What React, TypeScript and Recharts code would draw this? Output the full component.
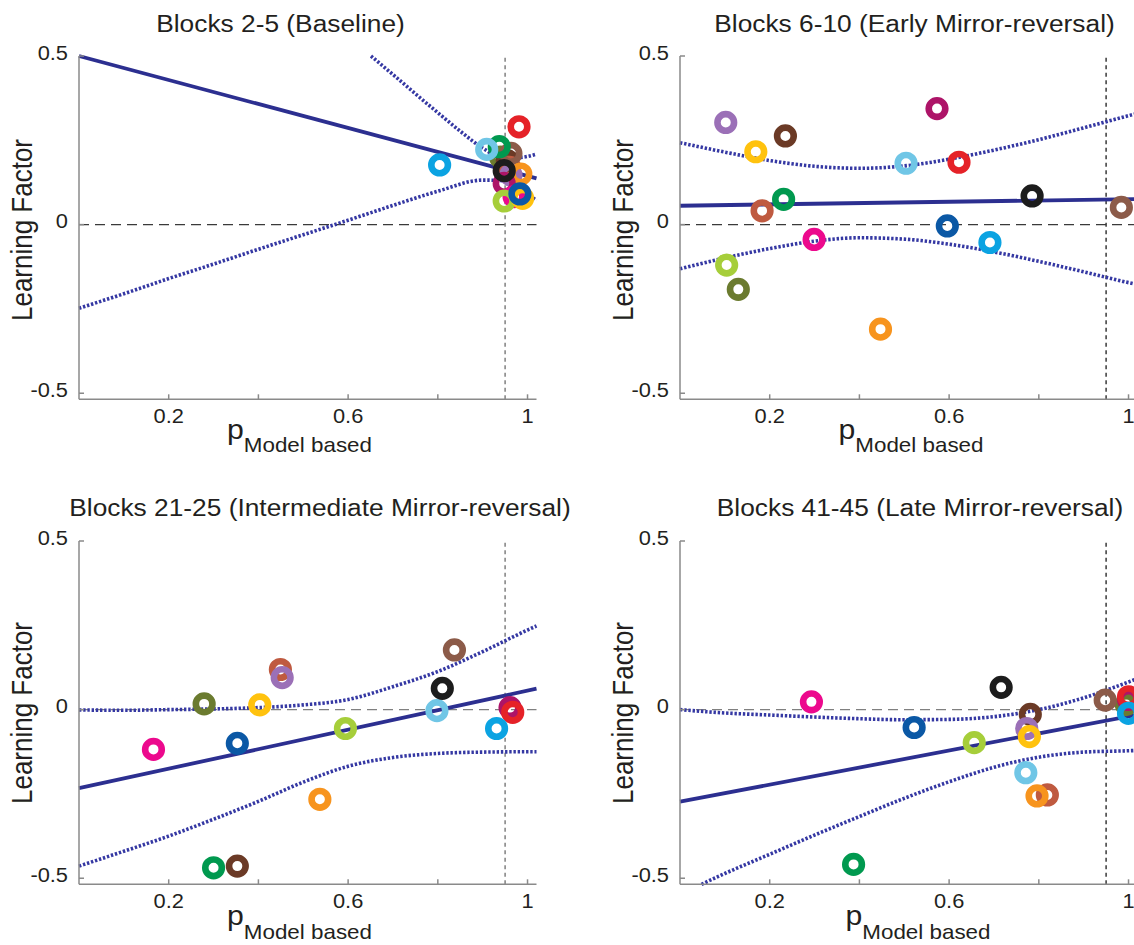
import React from 'react';
import { ComposedChart, XAxis, YAxis, Scatter, Line, ReferenceLine } from 'recharts';

// ---- shared axes ----
const X_DOMAIN: [number, number] = [0, 1.02];
const Y_DOMAIN: [number, number] = [-0.518, 0.5];
const X_TICKS = [0.2, 0.4, 0.6, 0.8, 1];
const X_TICK_LABELS = ['0.2', '', '0.6', '', '1'];
const Y_TICKS = [-0.5, 0, 0.5];
const CRITERION_P = 0.95;

// one colour per participant (index = participant id, also draw order)
const SUBJECT_COLORS = [
  '#6b7b2f', // olive
  '#6b3a26', // dark brown
  '#bf5a40', // sienna
  '#8c5b49', // taupe
  '#00994f', // green
  '#70c6e6', // sky blue
  '#9b70b7', // lavender
  '#f7941e', // orange
  '#ad1468', // crimson
  '#1c1c1c', // black
  '#e52228', // red
  '#ec098d', // pink
  '#a6ce3a', // lime
  '#ffc20e', // yellow
  '#0b58a5', // dark blue
  '#0ba3e2', // cyan
];

// ---- Blocks 2-5 (Baseline) ----
const BASE_P = [0.94, 0.955, 0.96, 0.963, 0.937, 0.909, 0.963, 0.985, 0.948, 0.948, 0.981, 0.97, 0.948, 0.989, 0.983, 0.804];
const BASE_LF = [0.2, 0.19, 0.17, 0.211, 0.231, 0.223, 0.147, 0.15, 0.122, 0.16, 0.29, 0.083, 0.07, 0.078, 0.091, 0.177];
const BASE_FIT_X = [0, 1.02];
const BASE_FIT_Y = [0.5, 0.137];
const BASE_UP_X = [0.651, 0.7, 0.75, 0.8, 0.85, 0.9, 0.94, 0.98, 1.02];
const BASE_UP_Y = [0.5, 0.445, 0.388, 0.332, 0.277, 0.227, 0.2, 0.199, 0.209];
const BASE_LO_X = [0, 0.1, 0.2, 0.3, 0.4, 0.5, 0.6, 0.7, 0.8, 0.9, 0.94, 0.98, 1.02];
const BASE_LO_Y = [-0.248, -0.205, -0.16, -0.117, -0.073, -0.03, 0.013, 0.057, 0.099, 0.132, 0.131, 0.106, 0.072];

// ---- Blocks 6-10 (Early Mirror-reversal) ----
const EARLY_P = [0.13, 0.235, 0.183, 0.984, 0.231, 0.504, 0.102, 0.447, 0.573, 0.785, 0.622, 0.299, 0.104, 0.169, 0.596, 0.691];
const EARLY_LF = [-0.192, 0.263, 0.041, 0.051, 0.075, 0.182, 0.303, -0.31, 0.344, 0.085, 0.185, -0.044, -0.12, 0.216, -0.004, -0.053];
const EARLY_FIT_X = [0, 1.02];
const EARLY_FIT_Y = [0.056, 0.076];
const EARLY_BAND_X = [0, 0.1, 0.2, 0.3, 0.4, 0.5, 0.6, 0.7, 0.8, 0.9, 1, 1.02];
const EARLY_UP_Y = [0.243, 0.215, 0.19, 0.173, 0.167, 0.174, 0.194, 0.221, 0.252, 0.287, 0.323, 0.33];
const EARLY_LO_Y = [-0.131, -0.099, -0.071, -0.049, -0.039, -0.043, -0.058, -0.081, -0.109, -0.14, -0.172, -0.178];

// ---- Blocks 21-25 (Intermediate Mirror-reversal) ----
const MID_P = [0.279, 0.353, 0.449, 0.837, 0.3, 0.798, 0.453, 0.537, 0.961, 0.81, 0.967, 0.166, 0.594, 0.403, 0.353, 0.931];
const MID_LF = [0.017, -0.464, 0.119, 0.177, -0.469, -0.003, 0.095, -0.266, 0.006, 0.063, -0.008, -0.118, -0.056, 0.014, -0.1, -0.056];
const MID_FIT_X = [0, 1.02];
const MID_FIT_Y = [-0.233, 0.062];
const MID_BAND_X = [0, 0.1, 0.2, 0.3, 0.4, 0.5, 0.6, 0.7, 0.8, 0.9, 1, 1.02];
const MID_UP_Y = [-0.001, -0.002, 0, 0.002, 0.006, 0.014, 0.03, 0.068, 0.113, 0.172, 0.236, 0.248];
const MID_LO_Y = [-0.464, -0.42, -0.375, -0.325, -0.272, -0.215, -0.168, -0.142, -0.13, -0.126, -0.125, -0.125];

// ---- Blocks 41-45 (Late Mirror-reversal) ----
const LATE_P = [0.995, 0.781, 0.819, 0.948, 0.387, 0.771, 0.773, 0.796, 1.0, 0.716, 1.0, 0.293, 0.656, 0.779, 0.522, 1.0];
const LATE_LF = [0.015, -0.014, -0.253, 0.028, -0.459, -0.187, -0.056, -0.256, 0.03, 0.066, 0.038, 0.023, -0.098, -0.08, -0.053, -0.011];
const LATE_FIT_X = [0, 1.02];
const LATE_FIT_Y = [-0.273, -0.015];
const LATE_UP_X = [0, 0.1, 0.2, 0.3, 0.4, 0.5, 0.6, 0.7, 0.8, 0.9, 1, 1.02];
const LATE_UP_Y = [0.0, -0.01, -0.016, -0.022, -0.027, -0.03, -0.029, -0.021, 0.0, 0.035, 0.082, 0.092];
const LATE_LO_X = [0.048, 0.1, 0.2, 0.3, 0.4, 0.5, 0.6, 0.7, 0.8, 0.9, 1, 1.02];
const LATE_LO_Y = [-0.518, -0.486, -0.429, -0.372, -0.317, -0.263, -0.214, -0.171, -0.141, -0.126, -0.122, -0.121];

// ---- styling ----
const FONT = '"Liberation Sans", Arial, Helvetica, sans-serif';
const TEXT = '#231f20';
const AXIS = '#8a8a8a';
const NAVY = '#2c2f90';
const BAND = '#3538a3';
const STRETCH = 1.12;
const DARK_GUIDE = '#3a3a3a';
const GREY_GUIDE = '#808080';

type Pt = { x: number; y: number; s?: number };
const toPoints = (xs: number[], ys: number[]): Pt[] => xs.map((x, i) => ({ x, y: ys[i], s: i }));
const toSeries = (xs: number[], ys: number[]): Pt[] => xs.map((x, i) => ({ x, y: ys[i] }));

const Ring = (props: any) => {
  const { cx, cy, payload } = props;
  if (cx == null || cy == null) return null;
  return <circle cx={cx} cy={cy} r={8.3} fill="none" stroke={SUBJECT_COLORS[payload.s]} strokeWidth={6.6} />;
};

const XTick = (props: any) => {
  const { x, y, payload } = props;
  const label = X_TICK_LABELS[X_TICKS.indexOf(payload.value)] ?? '';
  if (!label) return null;
  return (
    <text transform={`translate(${x} ${y}) scale(${STRETCH} 1)`} textAnchor="middle" fontSize={19.5} fill={TEXT} fontFamily={FONT}>
      {label}
    </text>
  );
};

const YTick = (props: any) => {
  const { x, y, payload } = props;
  return (
    <text transform={`translate(${x} ${y + 3.5}) scale(${STRETCH} 1)`} textAnchor="end" fontSize={19.5} fill={TEXT} fontFamily={FONT}>
      {String(payload.value)}
    </text>
  );
};

type PanelProps = {
  left: number;
  top: number;
  width: number;
  height: number;
  margin: { top: number; right: number; bottom: number; left: number };
  points: Pt[];
  fit: Pt[];
  upper: Pt[];
  lower: Pt[];
  zeroColor: string;
  criterionColor: string;
};

const Panel = ({ left, top, width, height, margin, points, fit, upper, lower, zeroColor, criterionColor }: PanelProps) => (
  <div style={{ position: 'absolute', left, top, width, height }}>
    <ComposedChart width={width} height={height} margin={margin}>
      <XAxis
        type="number"
        dataKey="x"
        domain={X_DOMAIN}
        ticks={X_TICKS}
        interval={0}
        height={30}
        tickSize={-5}
        tickMargin={28.4}
        axisLine={{ stroke: AXIS, strokeWidth: 1.5 }}
        tickLine={{ stroke: AXIS, strokeWidth: 1.5 }}
        tick={<XTick />}
      />
      <YAxis
        type="number"
        dataKey="y"
        domain={Y_DOMAIN}
        ticks={Y_TICKS}
        interval={0}
        width={50}
        tickSize={-5}
        tickMargin={16}
        axisLine={{ stroke: AXIS, strokeWidth: 1.5 }}
        tickLine={{ stroke: AXIS, strokeWidth: 1.5 }}
        tick={<YTick />}
      />
      <ReferenceLine y={0} stroke={zeroColor} strokeWidth={1.3} strokeDasharray="10 6" />
      <ReferenceLine x={CRITERION_P} stroke={criterionColor} strokeWidth={1.5} strokeDasharray="4 3.5" />
      <Scatter data={points} dataKey="y" shape={<Ring />} isAnimationActive={false} />
      <Line data={fit} dataKey="y" type="linear" stroke={NAVY} strokeWidth={3.8} dot={false} activeDot={false} isAnimationActive={false} />
      <Line data={upper} dataKey="y" type="monotone" stroke={BAND} strokeWidth={3.6} strokeDasharray="2.4 1.8" dot={false} activeDot={false} isAnimationActive={false} />
      <Line data={lower} dataKey="y" type="monotone" stroke={BAND} strokeWidth={3.6} strokeDasharray="2.4 1.8" dot={false} activeDot={false} isAnimationActive={false} />
    </ComposedChart>
  </div>
);

const Title = ({ x, y, children }: { x: number; y: number; children: React.ReactNode }) => (
  <text transform={`translate(${x} ${y}) scale(${STRETCH} 1)`} textAnchor="middle" fontSize={23.5} fill={TEXT} fontFamily={FONT}>
    {children}
  </text>
);

const YLabel = ({ x, y }: { x: number; y: number }) => (
  <text transform={`translate(${x} ${y}) scale(${STRETCH} 1) rotate(-90)`} textAnchor="middle" fontSize={26} fill={TEXT} fontFamily={FONT}>
    Learning Factor
  </text>
);

const XLabel = ({ x, y }: { x: number; y: number }) => (
  <text transform={`translate(${x} ${y}) scale(${STRETCH} 1)`} textAnchor="start" fill={TEXT} fontFamily={FONT}>
    <tspan fontSize={27}>p</tspan>
    <tspan fontSize={20} dy={13.5}>Model based</tspan>
  </text>
);

const TOP_MARGIN = { top: 56, right: 33.5, bottom: 42.7, left: 29 };
const TOP_MARGIN_R = { top: 56, right: 2.5, bottom: 42.7, left: 60 };
const BOT_MARGIN = { top: 69, right: 33.5, bottom: 30.7, left: 29 };
const BOT_MARGIN_R = { top: 69, right: 2.5, bottom: 30.7, left: 60 };

export default function App() {
  return (
    <div style={{ position: 'absolute', left: 0, top: 0, width: 1134, height: 945, overflow: 'hidden', background: '#fff' }}>
      <Panel left={0} top={0} width={570} height={472} margin={TOP_MARGIN}
        points={toPoints(BASE_P, BASE_LF)} fit={toSeries(BASE_FIT_X, BASE_FIT_Y)}
        upper={toSeries(BASE_UP_X, BASE_UP_Y)} lower={toSeries(BASE_LO_X, BASE_LO_Y)}
        zeroColor={DARK_GUIDE} criterionColor={GREY_GUIDE} />
      <Panel left={570} top={0} width={570} height={472} margin={TOP_MARGIN_R}
        points={toPoints(EARLY_P, EARLY_LF)} fit={toSeries(EARLY_FIT_X, EARLY_FIT_Y)}
        upper={toSeries(EARLY_BAND_X, EARLY_UP_Y)} lower={toSeries(EARLY_BAND_X, EARLY_LO_Y)}
        zeroColor={DARK_GUIDE} criterionColor={DARK_GUIDE} />
      <Panel left={0} top={472} width={570} height={473} margin={BOT_MARGIN}
        points={toPoints(MID_P, MID_LF)} fit={toSeries(MID_FIT_X, MID_FIT_Y)}
        upper={toSeries(MID_BAND_X, MID_UP_Y)} lower={toSeries(MID_BAND_X, MID_LO_Y)}
        zeroColor={GREY_GUIDE} criterionColor={GREY_GUIDE} />
      <Panel left={570} top={472} width={570} height={473} margin={BOT_MARGIN_R}
        points={toPoints(LATE_P, LATE_LF)} fit={toSeries(LATE_FIT_X, LATE_FIT_Y)}
        upper={toSeries(LATE_UP_X, LATE_UP_Y)} lower={toSeries(LATE_LO_X, LATE_LO_Y)}
        zeroColor={GREY_GUIDE} criterionColor={DARK_GUIDE} />
      <svg width={1134} height={945} style={{ position: 'absolute', left: 0, top: 0, pointerEvents: 'none' }}>
        <Title x={280.5} y={32}>Blocks 2-5 (Baseline)</Title>
        <Title x={914.5} y={32}>Blocks 6-10 (Early Mirror-reversal)</Title>
        <Title x={320} y={516}>Blocks 21-25 (Intermediate Mirror-reversal)</Title>
        <Title x={920} y={516}>Blocks 41-45 (Late Mirror-reversal)</Title>
        <YLabel x={32} y={230} />
        <YLabel x={633} y={230} />
        <YLabel x={32} y={713} />
        <YLabel x={633} y={713} />
        <XLabel x={227} y={438.5} />
        <XLabel x={838.5} y={438.5} />
        <XLabel x={227} y={925} />
        <XLabel x={845.5} y={925} />
      </svg>
    </div>
  );
}
